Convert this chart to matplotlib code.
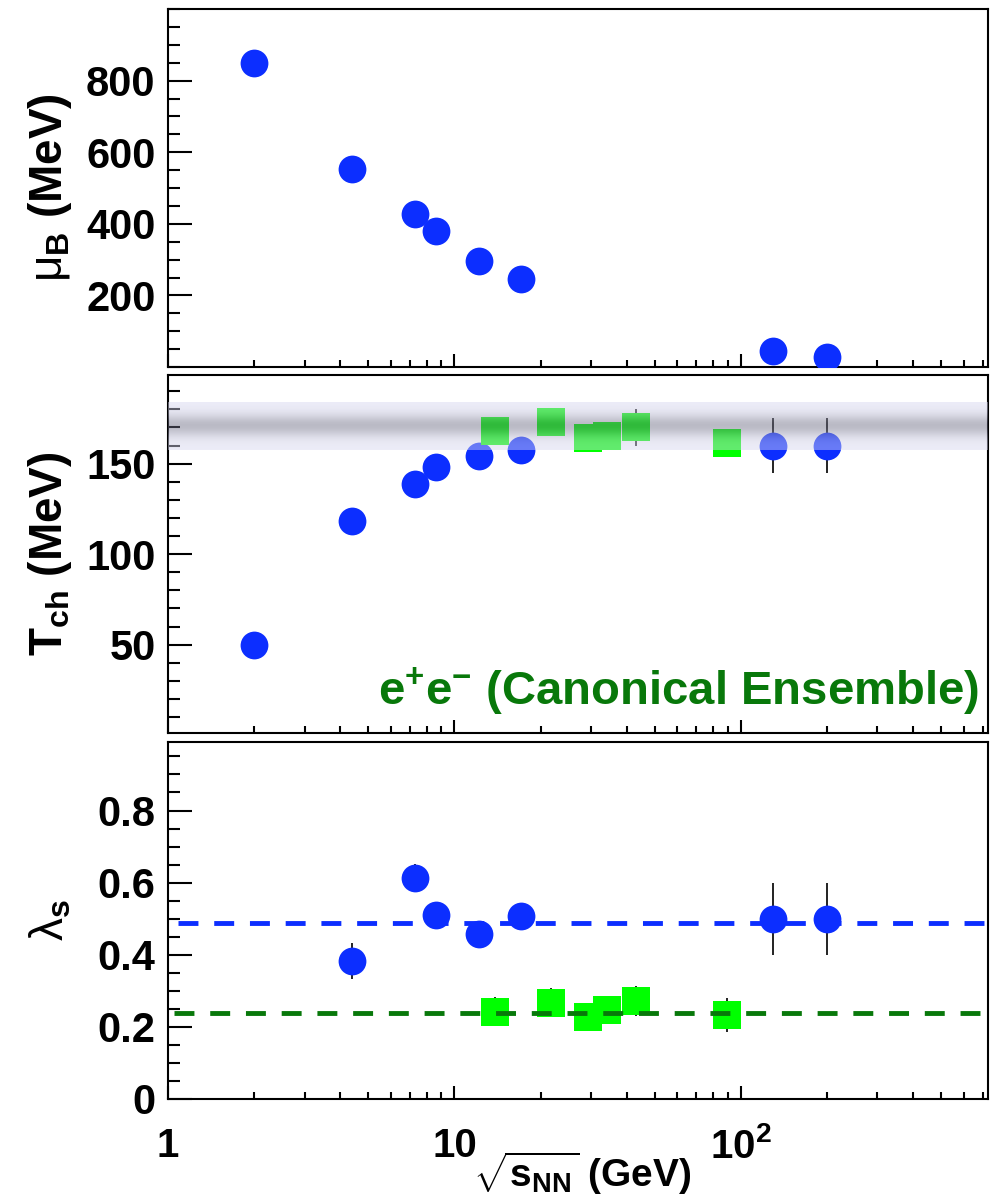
import numpy as np
import matplotlib
matplotlib.use("Agg")
import matplotlib.pyplot as plt
from matplotlib.ticker import FixedLocator, FixedFormatter, NullFormatter, LogLocator, MultipleLocator

plt.rcParams['font.family'] = ['Liberation Sans', 'DejaVu Sans']
plt.rcParams['font.weight'] = 'bold'
plt.rcParams['axes.labelweight'] = 'bold'
plt.rcParams['mathtext.fontset'] = 'custom'
plt.rcParams['mathtext.rm'] = 'Liberation Sans:weight=normal'
plt.rcParams['mathtext.it'] = 'Liberation Sans:italic:weight=normal'
plt.rcParams['mathtext.bf'] = 'Liberation Sans:bold'

# heavy-ion points (blue)
sqrts_AA = [2.0, 4.4, 7.3, 8.6, 12.2, 17.1, 130, 200]
muB_AA = [850, 553, 428, 379, 295, 247, 46, 28]
T_AA = [50, 118.5, 139, 148, 154, 157.7, 160, 160]
T_AA_err = [0, 0, 0, 0, 0, 0, 15, 15]
lams_AA = [np.nan, 0.382, 0.613, 0.51, 0.458, 0.507, 0.50, 0.50]
lams_AA_err = [0, 0.05, 0.04, 0.02, 0.02, 0.02, 0.10, 0.10]

# e+e- points (green)
sqrts_ee = [13.9, 21.7, 29.2, 34.2, 42.9, 89.8]
T_ee = [168, 173, 164.3, 165.2, 170, 161.2]
T_ee_err = [5, 5, 5, 5, 10, 5]
lams_ee = [0.242, 0.267, 0.227, 0.248, 0.272, 0.233]
lams_ee_err = [0.04, 0.04, 0.03, 0.03, 0.042, 0.048]

# mean lines and T band
lams_AA_mean = 0.489
lams_ee_mean = 0.238
T_band = [157.3, 183.9]

blue = '#0c2eff'
green = '#00ff00'
dkgreen = '#08780a'
xmin, xmax = 1, 730

fig = plt.figure(figsize=(9.9, 12.03), dpi=100)
L, W = 168/990, 820/990
ax1 = fig.add_axes([L, 1-367/1203, W, 358/1203])
ax2 = fig.add_axes([L, 1-733/1203, W, 358/1203])
ax3 = fig.add_axes([L, 1-1099/1203, W, 357/1203])


def style(ax):
    ax.set_xscale('log')
    for s in ax.spines.values():
        s.set_linewidth(1.5)
    ax.tick_params(which='both', direction='in', width=1.5, top=False, right=False)
    ax.tick_params(axis='y', which='major', length=17, pad=9, labelsize=30)
    ax.tick_params(axis='y', which='minor', length=8.5)
    ax.tick_params(axis='x', which='major', length=9.5, pad=20, labelsize=29)
    ax.tick_params(axis='x', which='minor', length=5)
    ax.xaxis.set_major_locator(FixedLocator([1, 10, 100]))
    ax.xaxis.set_minor_locator(LogLocator(base=10, subs=np.arange(2, 10), numticks=20))
    ax.xaxis.set_minor_formatter(NullFormatter())
    ax.xaxis.set_major_formatter(NullFormatter())
    ax.yaxis.set_label_coords(-0.115, 0.5)


def points(ax, x, y, err, color, marker, ms):
    ax.errorbar(x, y, yerr=err, fmt=marker, color=color, ms=ms, mew=0,
                ecolor='#222222', elinewidth=1.4, capsize=3.2, capthick=1.4, zorder=3)


for ax in (ax1, ax2, ax3):
    style(ax)

# top: mu_B
points(ax1, sqrts_AA, muB_AA, None, blue, 'o', 20)
ax1.set_ylim(0, 1000)
ax1.yaxis.set_major_locator(FixedLocator([200, 400, 600, 800]))
ax1.yaxis.set_minor_locator(MultipleLocator(50))
ax1.set_ylabel(r'$\mathrm{\mu}_{\mathbf{B}}$ (MeV)', fontsize=33, fontweight='bold')

# middle: T_ch
points(ax2, sqrts_AA, T_AA, T_AA_err, blue, 'o', 20)
points(ax2, sqrts_ee, T_ee, T_ee_err, green, 's', 20.5)
tt = np.linspace(T_band[0], T_band[1], 200)
wgt = np.exp(-((tt - np.mean(T_band)) / 6.0) ** 2)[:, None]
edge = np.array([215, 215, 240]) / 255
core = np.array([106, 106, 130]) / 255
rgba = np.zeros((len(tt), 1, 4))
rgba[:, 0, :3] = edge * (1 - wgt) + core * wgt
rgba[:, 0, 3] = 0.46
ax2.imshow(rgba, extent=(xmin, xmax, T_band[0], T_band[1]), origin='lower',
           aspect='auto', interpolation='bilinear', zorder=5)
ax2.set_ylim(1.2, 199)
ax2.yaxis.set_major_locator(FixedLocator([50, 100, 150]))
ax2.yaxis.set_minor_locator(MultipleLocator(10))
ax2.set_ylabel(r'$\mathbf{T_{ch}}$ (MeV)', fontsize=33, fontweight='bold')
ax2.text(0.989, 0.078, r'e$^{\mathbf{+}}$e$^{\mathbf{-}}$ (Canonical Ensemble)',
         transform=ax2.transAxes, ha='right', va='baseline', color=dkgreen, fontsize=34)

# bottom: lambda_s
points(ax3, sqrts_AA, lams_AA, lams_AA_err, blue, 'o', 20)
points(ax3, sqrts_ee, lams_ee, lams_ee_err, green, 's', 20.5)
ax3.axhline(lams_AA_mean, xmin=0.012, color=blue, lw=3.5, dashes=(4.1, 3.25), zorder=6)
ax3.axhline(lams_ee_mean, xmin=0.007, color=dkgreen, lw=3.5, dashes=(4.1, 3.25), zorder=6)
ax3.set_ylim(0, 0.99)
ax3.yaxis.set_major_locator(FixedLocator([0, 0.2, 0.4, 0.6, 0.8]))
ax3.yaxis.set_major_formatter(FixedFormatter(['0', '0.2', '0.4', '0.6', '0.8']))
ax3.yaxis.set_minor_locator(MultipleLocator(0.05))
ax3.set_ylabel(r'$\mathrm{\lambda}_{\mathbf{s}}$', fontsize=33, fontweight='bold')
ax3.xaxis.set_major_formatter(FixedFormatter(['1', '10', r'$\mathbf{10^{2}}$']))

for ax in (ax1, ax2, ax3):
    ax.set_xlim(xmin, xmax)

fig.text(473/990, 1-1187/1203, r'$\sqrt{\mathbf{s}_{\mathbf{NN}}}$ (GeV)', ha='left',
         va='baseline', fontsize=28)

fig.savefig('out.png', dpi=100)
